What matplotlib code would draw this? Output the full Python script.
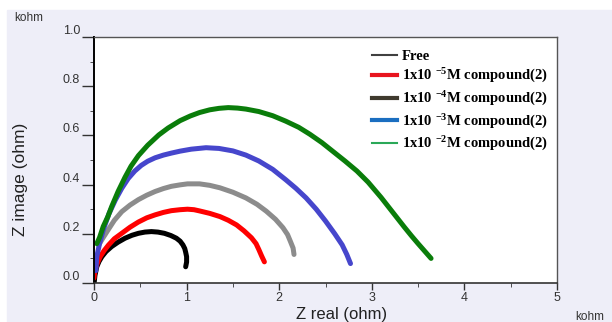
import matplotlib
matplotlib.use("Agg")
import matplotlib.pyplot as plt
from matplotlib.lines import Line2D
from matplotlib.patches import Rectangle
from matplotlib.ticker import MultipleLocator

plt.rcParams['mathtext.fontset'] = 'custom'
plt.rcParams['mathtext.rm'] = 'Liberation Serif:bold'
plt.rcParams['mathtext.it'] = 'Liberation Serif:bold'
plt.rcParams['mathtext.bf'] = 'Liberation Serif:bold'
plt.rcParams['mathtext.default'] = 'rm'

# Nyquist data (kohm)
free_x = [0.0, 0.01, 0.03, 0.055, 0.085, 0.13, 0.19, 0.26, 0.335, 0.41, 0.48, 0.55, 0.62,
          0.69, 0.76, 0.83, 0.89, 0.93, 0.96, 0.98, 0.99, 1.0, 1.0, 0.99]
free_y = [-0.005, 0.03, 0.066, 0.088, 0.107, 0.128, 0.148, 0.166, 0.182, 0.194, 0.202, 0.207, 0.209,
          0.207, 0.202, 0.193, 0.182, 0.17, 0.155, 0.14, 0.125, 0.107, 0.085, 0.066]

c5_x = [0.0, 0.01, 0.035, 0.067, 0.11, 0.156, 0.22, 0.3, 0.39, 0.48, 0.57, 0.66, 0.75, 0.835,
        0.93, 1.01, 1.08, 1.14, 1.25, 1.36, 1.45, 1.54, 1.62, 1.7, 1.75, 1.78, 1.81, 1.84]
c5_y = [0.02, 0.052, 0.08, 0.107, 0.132, 0.154, 0.18, 0.202, 0.227, 0.248, 0.265, 0.277, 0.287, 0.294,
        0.298, 0.30, 0.298, 0.293, 0.283, 0.27, 0.255, 0.236, 0.212, 0.184, 0.16, 0.136, 0.11, 0.086]

c4_x = [0.05, 0.1, 0.156, 0.22, 0.3, 0.39, 0.48, 0.57, 0.66, 0.75, 0.835, 0.93, 1.01, 1.14,
        1.25, 1.36, 1.5, 1.64, 1.76, 1.86, 1.96, 2.04, 2.09, 2.12, 2.15, 2.16]
c4_y = [0.154, 0.185, 0.218, 0.255, 0.29, 0.317, 0.339, 0.357, 0.372, 0.384, 0.393, 0.399, 0.403, 0.403,
        0.397, 0.387, 0.369, 0.346, 0.32, 0.292, 0.259, 0.225, 0.197, 0.17, 0.142, 0.116]

c3_x = [0.02, 0.03, 0.06, 0.1, 0.16, 0.23, 0.3, 0.37, 0.44, 0.51, 0.58, 0.66, 0.75, 0.835, 0.93,
        1.05, 1.21, 1.35, 1.5, 1.64, 1.78, 1.93, 2.07, 2.18, 2.29, 2.4, 2.5, 2.6, 2.68, 2.73, 2.77]
c3_y = [0.05, 0.107, 0.16, 0.216, 0.28, 0.337, 0.385, 0.425, 0.455, 0.478, 0.495, 0.509, 0.52, 0.528, 0.536,
        0.544, 0.55, 0.547, 0.537, 0.52, 0.496, 0.462, 0.42, 0.385, 0.346, 0.3, 0.252, 0.2, 0.155, 0.116, 0.079]

c2_x = [0.03, 0.06, 0.1, 0.15, 0.19, 0.26, 0.335, 0.4, 0.48, 0.58, 0.7, 0.8, 0.93, 1.04, 1.14,
        1.25, 1.35, 1.45, 1.55, 1.64, 1.78, 1.93, 2.07, 2.21, 2.33, 2.46, 2.58, 2.71, 2.84, 2.96,
        3.1, 3.25, 3.35, 3.43, 3.5, 3.57, 3.64]
c2_y = [0.16, 0.185, 0.23, 0.27, 0.31, 0.372, 0.43, 0.475, 0.518, 0.56, 0.602, 0.63, 0.66, 0.679, 0.693,
        0.704, 0.71, 0.713, 0.711, 0.707, 0.697, 0.68, 0.658, 0.633, 0.605, 0.571, 0.535, 0.496, 0.455, 0.41,
        0.348, 0.276, 0.228, 0.191, 0.16, 0.13, 0.10]

labels = ["Free",
          "1x10 $^{-5}$M compound(2)",
          "1x10 $^{-4}$M compound(2)",
          "1x10 $^{-3}$M compound(2)",
          "1x10 $^{-2}$M compound(2)"]

fig = plt.figure(figsize=(6.12, 3.22), dpi=100)
fig.patches.append(Rectangle((7 / 612, 0), 1, 1 - 10 / 322, transform=fig.transFigure,
                             color='#EEEEF8', zorder=-10))
ax = fig.add_axes([94 / 612, 1 - 283 / 322, 463 / 612, 246 / 322])
ax.set_facecolor('white')

kw = dict(lw=3.6, solid_capstyle='round', solid_joinstyle='round')
ax.plot(free_x, free_y, color='black', **kw)
ax.plot(c5_x, c5_y, color='#FF0000', **kw)
ax.plot(c4_x, c4_y, color='#8C8C8C', **kw)
ax.plot(c3_x, c3_y, color='#4646CC', **kw)
ax.plot(c2_x, c2_y, color='#0A7D0A', **kw)

ax.set_xlim(0, 5)
ax.set_ylim(0, 1.0)
ax.xaxis.set_major_locator(MultipleLocator(1))
ax.xaxis.set_minor_locator(MultipleLocator(0.5))
ax.yaxis.set_minor_locator(MultipleLocator(0.1))
ax.set_yticks([0.0, 0.2, 0.4, 0.6, 0.8, 1.0], ['0.0', '0.2', '0.4', '0.6', '0.8', '1.0'])

ax.tick_params(axis='both', which='major', direction='out', length=5, width=1,
               color='#333333', labelsize=9, labelcolor='#333333',
               labelfontfamily='Liberation Sans')
ax.tick_params(axis='x', which='major', pad=1.5)
ax.tick_params(axis='y', which='major', length=9, pad=1)
ax.tick_params(axis='both', which='minor', direction='out', length=3, color='#333333')
for lab in ax.get_yticklabels():
    lab.set_va('bottom')

ax.spines['left'].set_color('black')
ax.spines['left'].set_linewidth(1.4)
ax.spines['bottom'].set_color('#333333')
ax.spines['bottom'].set_linewidth(1.2)
for s in ['top', 'right']:
    ax.spines[s].set_color('#555555')
    ax.spines[s].set_linewidth(1.0)

handles = [Line2D([], [], color='#404040', lw=1.5),
           Line2D([], [], color='#E8141E', lw=3),
           Line2D([], [], color='#3F3A2E', lw=3),
           Line2D([], [], color='#1A6EC0', lw=3),
           Line2D([], [], color='#2AA858', lw=1.5)]
ax.legend(handles, labels, loc='upper right', bbox_to_anchor=(1.0, 0.985),
          frameon=False, prop={'family': 'Liberation Serif', 'weight': 'bold', 'size': 10.5},
          labelspacing=0.3, handlelength=1.7, handletextpad=0.35, borderaxespad=0.2)

fig.text(21 / 612, 1 - 179 / 322, 'Z image (ohm)', rotation=90, ha='center', va='center',
         fontsize=12.5, family='Liberation Sans', color='#222222')
fig.text(342 / 612, 1 - 321.5 / 322, 'Z real (ohm)', ha='center', va='bottom',
         fontsize=12, family='Liberation Sans', color='#222222')
fig.text(14 / 612, 1 - 18 / 322, 'kohm', ha='left', va='center',
         fontsize=8.5, family='Liberation Sans', color='#333333')
fig.text(590 / 612, 1 - 317 / 322, 'kohm', ha='center', va='center',
         fontsize=8.5, family='Liberation Sans', color='#333333')

fig.savefig('out.png', dpi=100)
